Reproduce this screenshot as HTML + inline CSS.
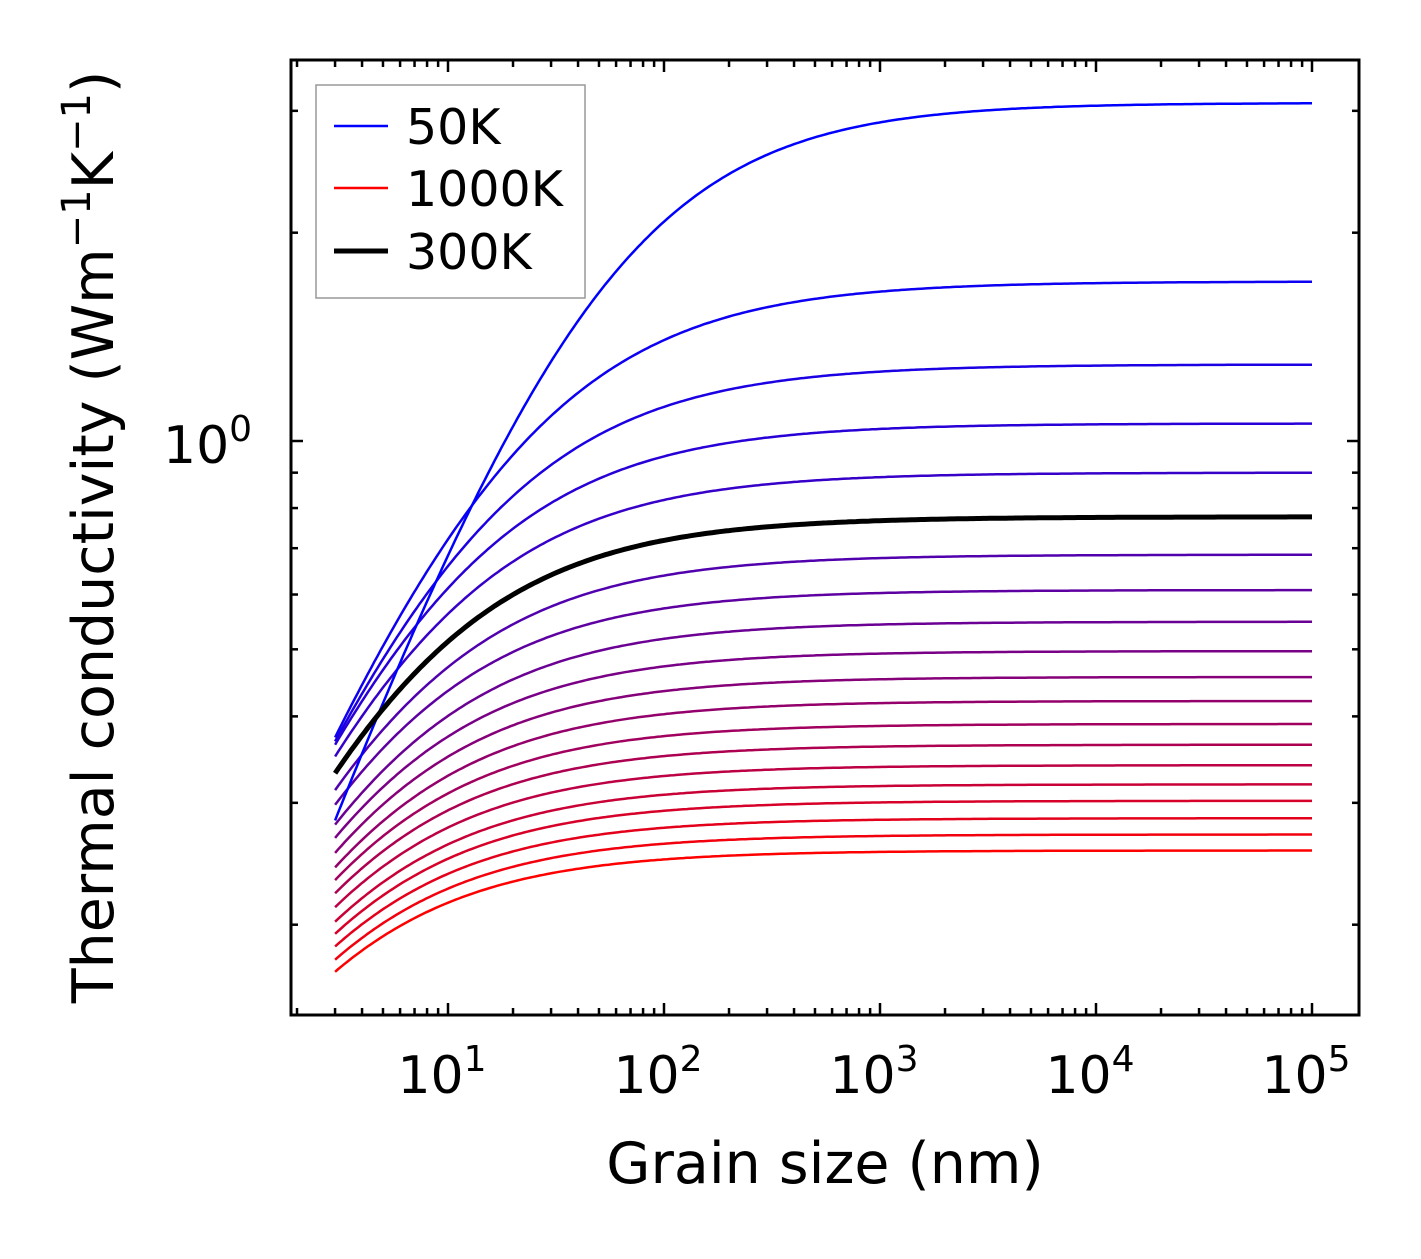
<!DOCTYPE html>
<html><head><meta charset="utf-8"><style>
body{margin:0;background:#fff}
text{font-family:"DejaVu Sans","Liberation Sans",sans-serif;fill:#000}
</style></head><body>
<svg id="c" width="1421" height="1254" viewBox="0 0 1421 1254" xmlns="http://www.w3.org/2000/svg">
<rect x="0" y="0" width="1421" height="1254" fill="#fff"/>
<g id="curves"></g>
<g id="axes"></g>
<rect x="291" y="60" width="1068" height="955" fill="none" stroke="#000" stroke-width="3"/>
<text x="825" y="1183" font-size="57" text-anchor="middle">Grain size (nm)</text>
<text transform="translate(113,537) rotate(-90)" font-size="57" text-anchor="middle">Thermal conductivity (Wm<tspan dy="-23" font-size="40">−1</tspan><tspan dy="23">K</tspan><tspan dy="-23" font-size="40">−1</tspan><tspan dy="23">)</tspan></text>
<g>
<rect x="316" y="85" width="269" height="213" fill="#fff" stroke="#999" stroke-width="1.5"/>
<line x1="334" y1="126" x2="388" y2="126" stroke="#0000ff" stroke-width="2.5"/>
<text x="406" y="144" font-size="49">50K</text>
<line x1="334" y1="188" x2="388" y2="188" stroke="#ff0000" stroke-width="2.5"/>
<text x="406" y="206" font-size="49">1000K</text>
<line x1="334" y1="251" x2="388" y2="251" stroke="#000" stroke-width="5"/>
<text x="406" y="269" font-size="49">300K</text>
</g>
</svg>
<script>
const temps=[50,100,150,200,250,300,350,400,450,500,550,600,650,700,750,800,850,900,950,1000];
const kBulk=[3.08,1.70,1.29,1.06,0.90,0.777,0.685,0.609,0.548,0.497,0.456,0.421,0.390,0.364,0.340,0.319,0.302,0.285,0.270,0.256];
const kAt3nm=[0.283,0.373,0.368,0.364,0.350,0.331,0.313,0.298,0.279,0.267,0.254,0.242,0.232,0.222,0.212,0.202,0.194,0.186,0.178,0.171];
const xTickExps=[1,2,3,4,5];
const NS="http://www.w3.org/2000/svg";
const X0=291,X1=1359,Y0=60,Y1=1015;
function xs(v){return 448+(Math.log10(v)-1)*216;}
function ys(v){return 441-Math.log10(v)*692;}
const cg=document.getElementById('curves');
temps.forEach((T,i)=>{
  const q=T===50?0.86:0.8;
  const kinf=kBulk[i],k3=kAt3nm[i];
  const L0=3*Math.pow(kinf/k3-1,1/q);
  let d="";
  for(let j=0;j<=300;j++){
    const lg=Math.log10(3)+(5-Math.log10(3))*j/300;
    const L=Math.pow(10,lg);
    const k=kinf/(1+Math.pow(L0/L,q));
    d+=(j?"L":"M")+xs(L).toFixed(1)+","+ys(k).toFixed(1);
  }
  const t=(T-50)/950;
  const col=T===300?"#000":`rgb(${Math.round(255*t)},0,${Math.round(255*(1-t))})`;
  const p=document.createElementNS(NS,"path");
  p.setAttribute("d",d);p.setAttribute("fill","none");p.setAttribute("stroke",col);
  p.setAttribute("stroke-width",T===300?"5":"2.5");
  
  
  if(T===300)cg.appendChild(p);else cg.insertBefore(p,cg.firstChild);
});
const ax=document.getElementById('axes');
function ln(x1,y1,x2,y2,w){const l=document.createElementNS(NS,"line");l.setAttribute("x1",x1);l.setAttribute("y1",y1);l.setAttribute("x2",x2);l.setAttribute("y2",y2);l.setAttribute("stroke","#000");l.setAttribute("stroke-width",w);


ax.appendChild(l);}
for(let e=0;e<=5;e++){for(let m=1;m<10;m++){const x=xs(m*Math.pow(10,e));if(x<X0||x>X1)continue;
 const len=m===1?12:7;ln(x,Y1,x,Y1-len,2.5);ln(x,Y0,x,Y0+len,2.5);}}
for(let e=-1;e<=0;e++){for(let m=1;m<10;m++){const y=ys(m*Math.pow(10,e));if(y<Y0||y>Y1)continue;
 const len=m===1&&e===0?12:7;ln(X0,y,X0+len,y,2.5);ln(X1,y,X1-len,y,2.5);}}
xTickExps.forEach(e=>{const t=document.createElementNS(NS,"text");t.setAttribute("x",xs(Math.pow(10,e))-6);t.setAttribute("y",1093);t.setAttribute("font-size","52");t.setAttribute("text-anchor","middle");
t.innerHTML="10<tspan dy='-22' font-size='36'>"+e+"</tspan>";


ax.appendChild(t);});
const yt=document.createElementNS(NS,"text");yt.setAttribute("x",163);yt.setAttribute("y",463);yt.setAttribute("font-size","52");
yt.innerHTML="10<tspan dy='-22' font-size='36'>0</tspan>";


ax.appendChild(yt);
</script>
</body></html>
